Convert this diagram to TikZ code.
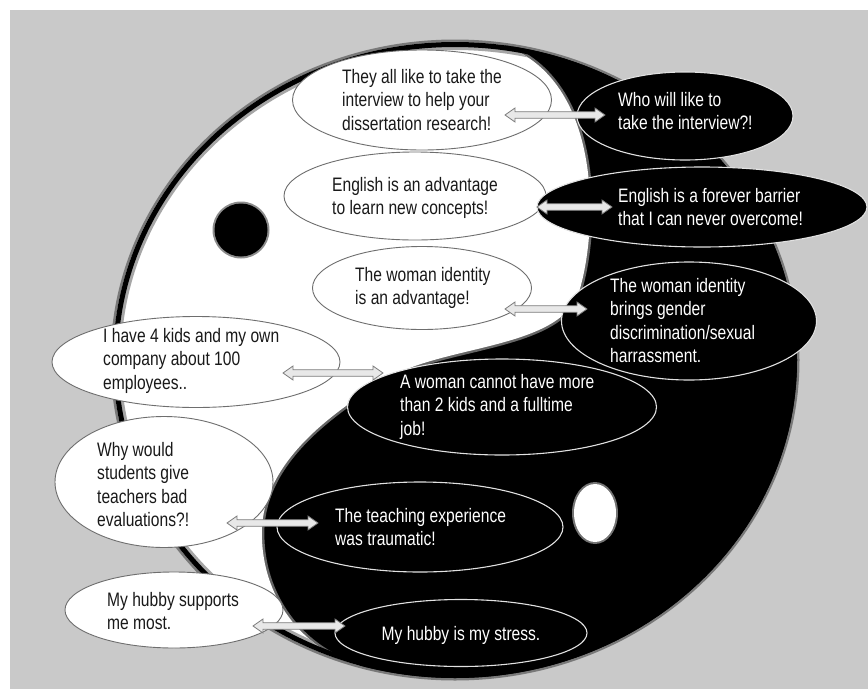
\documentclass[tikz,border=0pt]{standalone}
\usepackage{fontspec}
\setmainfont{Liberation Sans}[FakeStretch=0.8]
\usetikzlibrary{shapes.geometric,calc}

\definecolor{bggray}{RGB}{201,201,201}
\definecolor{edgegray}{RGB}{110,110,110}
\definecolor{arrowedge}{RGB}{125,125,125}
\definecolor{arrowfill}{RGB}{232,232,232}
\definecolor{ink}{RGB}{25,25,25}
\definecolor{paleline}{RGB}{225,225,225}

\newcommand\blk[1]{\begin{tabular}[t]{@{}l@{}}#1\end{tabular}}

% hollow two-headed arrow between two named points on one row
\newcommand\twoway[2]{%
  \draw[arrowbody] let \p1=(#1), \p2=(#2) in
    (\x1,\y1) -- (\x1+10pt,\y1+7pt) -- (\x1+10pt,\y1+3.3pt)
    -- (\x2-10pt,\y2+3.3pt) -- (\x2-10pt,\y2+7pt) -- (\x2,\y2)
    -- (\x2-10pt,\y2-7pt) -- (\x2-10pt,\y2-3.3pt)
    -- (\x1+10pt,\y1-3.3pt) -- (\x1+10pt,\y1-7pt) -- cycle;}

\tikzset{
  bubble/.style={ellipse, inner sep=0pt},
  lightbubble/.style={bubble, draw=edgegray, line width=0.9pt, fill=white},
  darkbubble/.style={bubble, draw=paleline, line width=1.1pt, fill=black},
  say/.style={inner sep=0pt, font=\fontsize{19.5}{23.5}\selectfont},
  lightsay/.style={say, text=ink},
  darksay/.style={say, text=white},
  arrowbody/.style={draw=arrowedge, line width=0.8pt, fill=arrowfill, line join=miter},
}

% left (white) half of the disc, bounded by the outer ellipse and the S-curve
\def\whitehalf{(502.6,45.1) arc[start angle=278, end angle=106.2, x radius=342, y radius=318]
  .. controls (315,655) and (265,610) .. (262,540)
  .. controls (258,470) and (320,420) .. (385,380)
  .. controls (440,345) and (555,350) .. (578,295)
  .. controls (598,235) and (605,80) .. (502.6,45.1) -- cycle}

\begin{document}
\begin{tikzpicture}[x=1pt,y=-1pt]
\useasboundingbox (0,0) rectangle (868,691);
\fill[white] (0,0) rectangle (868,691);
\fill[bggray] (10,10) rectangle (868,689);

% ---- the disc, with a slightly soft outer edge ----
\coordinate (C) at (455,360);
\fill[black!40!bggray] (C) ellipse [x radius=344.5, y radius=320.5];
\fill[black] (C) ellipse [x radius=342, y radius=318];
\begin{scope}
  \clip (C) ellipse [x radius=342, y radius=318];
  \draw[white!40!black, line width=5pt] \whitehalf;
  \fill[white] \whitehalf;
\end{scope}
\begin{scope}
  \clip \whitehalf;
  \draw[black!35, line width=9pt] (C) ellipse [x radius=338.5, y radius=314.5];
\end{scope}
\draw[black, line width=5pt] (C) ellipse [x radius=339.5, y radius=315.5];

% the two eyes
\fill[black!45] (241,230) circle [radius=28.5];
\fill[black] (241,230) circle [radius=26.5];
\fill[white!45!black] (595,513) ellipse [x radius=23, y radius=31];
\fill[white] (595,513) ellipse [x radius=21, y radius=29];

% ---- bubbles ----
\node[lightbubble, minimum width=259pt, minimum height=100pt] (q1) at (422,100) {};
\node[darkbubble,  minimum width=216pt, minimum height=88pt]  (q2) at (685,116) {};
\node[lightbubble, minimum width=262pt, minimum height=88pt]  (q3) at (415,196) {};
\node[darkbubble,  minimum width=330pt, minimum height=80pt]  (q4) at (702,207) {};
\node[lightbubble, minimum width=219pt, minimum height=83pt]  (q5) at (422,288) {};
\node[darkbubble,  minimum width=255pt, minimum height=118pt] (q6) at (689,321) {};
\node[lightbubble, minimum width=288pt, minimum height=91pt]  (q7) at (196,362) {};
\node[darkbubble,  minimum width=309pt, minimum height=96pt]  (q8) at (502,407) {};
\node[lightbubble, minimum width=218pt, minimum height=131pt] (q9) at (164,482) {};
\node[darkbubble,  minimum width=286pt, minimum height=90pt]  (q10) at (420,527) {};
\node[lightbubble, minimum width=218pt, minimum height=76pt]  (q11) at (174,610) {};
\node[darkbubble,  minimum width=252pt, minimum height=67pt]  (q12) at (461,633) {};

\node[lightsay, anchor=base west] (s1) at (342,83) {\blk{They all like to take the\\interview to help your\\dissertation research!}};
\node[darksay, anchor=base west] (s2) at (618,106) {\blk{Who will like to\\take the interview?!}};
\node[lightsay, anchor=base west] (s3) at (332,191) {\blk{English is an advantage\\to learn new concepts!}};
\node[darksay, anchor=base west] (s4) at (618,202) {\blk{English is a forever barrier\\that I can never overcome!}};
\node[lightsay, anchor=base west] (s5) at (355,281) {\blk{The woman identity\\is an advantage!}};
\node[darksay, anchor=base west] (s6) at (610,292) {\blk{The woman identity\\brings gender\\discrimination/sexual\\harrassment.}};
\node[lightsay, anchor=base west] (s7) at (103,342) {\blk{I have 4 kids and my own\\company about 100\\employees..}};
\node[darksay, anchor=base west] (s8) at (400,388) {\blk{A woman cannot have more\\than 2 kids and a fulltime\\job!}};
\node[lightsay, anchor=base west] (s9) at (97,456) {\blk{Why would\\students give\\teachers bad\\evaluations?!}};
\node[darksay, anchor=base west] (s10) at (335,522) {\blk{The teaching experience\\was traumatic!}};
\node[lightsay, anchor=base west] (s11) at (107,606) {\blk{My hubby supports\\me most.}};
\node[darksay, anchor=base] (s12) at (461,640) {My hubby is my stress.};

% ---- two-way arrows ----
\coordinate (a1l) at (505,115);  \coordinate (a1r) at (605,115);
\coordinate (a2l) at (537,207);  \coordinate (a2r) at (612,207);
\coordinate (a3l) at (505,309);  \coordinate (a3r) at (587,309);
\coordinate (a4l) at (283,373);  \coordinate (a4r) at (383,373);
\coordinate (a5l) at (227,523);  \coordinate (a5r) at (318,523);
\coordinate (a6l) at (253,626);  \coordinate (a6r) at (345,626);
\twoway{a1l}{a1r}
\twoway{a2l}{a2r}
\twoway{a3l}{a3r}
\twoway{a4l}{a4r}
\twoway{a5l}{a5r}
\twoway{a6l}{a6r}
\end{tikzpicture}
\end{document}
